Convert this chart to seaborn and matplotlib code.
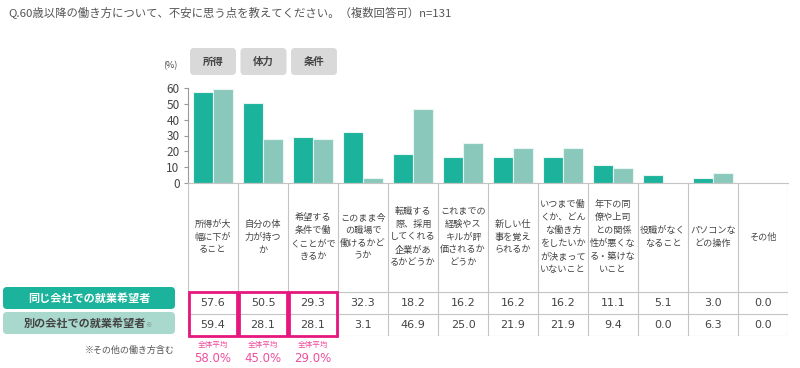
import matplotlib.pyplot as plt
import pandas as pd
import seaborn as sns
from matplotlib.patches import FancyBboxPatch, Rectangle

title = "Q.60歳以降の働き方について、不安に思う点を教えてください。（複数回答可）n=131"

items = [
    "所得が大\n幅に下が\nること",
    "自分の体\n力が持つ\nか",
    "希望する\n条件で働\nくことがで\nきるか",
    "このまま今\nの職場で\n働けるかど\nうか",
    "転職する\n際、採用\nしてくれる\n企業があ\nるかどうか",
    "これまでの\n経験やス\nキルが評\n価されるか\nどうか",
    "新しい仕\n事を覚え\nられるか",
    "いつまで働\nくか、どん\nな働き方\nをしたいか\nが決まって\nいないこと",
    "年下の同\n僚や上司\nとの関係\n性が悪くな\nる・築けな\nいこと",
    "役職がなく\nなること",
    "パソコンな\nどの操作",
    "その他",
]
groups = ["同じ会社での就業希望者", "別の会社での就業希望者"]
same_company = [57.6, 50.5, 29.3, 32.3, 18.2, 16.2, 16.2, 16.2, 11.1, 5.1, 3.0, 0.0]
other_company = [59.4, 28.1, 28.1, 3.1, 46.9, 25.0, 21.9, 21.9, 9.4, 0.0, 6.3, 0.0]
header_tags = ["所得", "体力", "条件"]
overall_avg = [58.0, 45.0, 29.0]

dark = "#1bb39b"
light = "#89c8ba"
pink = "#e6177f"
pink_text = "#ee4f9c"
grid_gray = "#c4c4c4"
text_gray = "#444444"

df = pd.DataFrame({
    "item": items * 2,
    "group": [groups[0]] * len(items) + [groups[1]] * len(items),
    "value": same_company + other_company,
})

sns.set_theme(style="white")
plt.rcParams["font.family"] = ["Noto Sans CJK JP", "DejaVu Sans"]

W, H = 800, 368
fig = plt.figure(figsize=(8, 3.68), dpi=100)

# bar chart
ax = fig.add_axes([188 / W, (H - 183) / H, 600 / W, 95 / H])
sns.barplot(data=df, x="item", y="value", hue="group", order=items,
            palette=[dark, light], saturation=1, width=0.8,
            edgecolor="#e8f5f1", linewidth=0.8, legend=False, ax=ax)
ax.set_xlim(-0.5, len(items) - 0.5)
ax.set_ylim(0, 60)
ax.set_yticks(range(0, 61, 10))
ax.tick_params(axis="y", labelsize=8.5, colors=text_gray, length=3,
               width=0.8, pad=3, left=True, color="#999999")
ax.set_xticks([])
ax.set_xlabel("")
ax.set_ylabel("")
for side in ["top", "right"]:
    ax.spines[side].set_visible(False)
ax.spines["left"].set_color("#999999")
ax.spines["left"].set_linewidth(0.8)
ax.spines["bottom"].set_color(grid_gray)
ax.spines["bottom"].set_linewidth(0.8)

# table below, sharing the category axis
tab = fig.add_axes([188 / W, (H - 336) / H, 600 / W, 153 / H], sharex=ax)
tab.set_ylim(336, 183)
tab.axis("off")
tab.patch.set_alpha(0)
n = len(items)
for k in range(n + 1):
    tab.plot([k - 0.5, k - 0.5], [183, 336], color=grid_gray, lw=0.8)
for yy in [292, 314, 336]:
    tab.plot([-0.5, n - 0.5], [yy, yy], color=grid_gray, lw=0.8)
for i, label in enumerate(items):
    tab.text(i, 237, label, ha="center", va="center", fontsize=6.6,
             color=text_gray, linespacing=1.55)
    tab.text(i, 303, f"{same_company[i]:.1f}", ha="center", va="center",
             fontsize=8, color=text_gray, family="DejaVu Sans")
    tab.text(i, 325, f"{other_company[i]:.1f}", ha="center", va="center",
             fontsize=8, color=text_gray, family="DejaVu Sans")
for i, avg in enumerate(overall_avg):
    tab.add_patch(Rectangle((i - 0.48, 292), 0.96, 44, fill=False,
                            edgecolor=pink, lw=2, clip_on=False, zorder=5))
    tab.text(i, 345, "全体平均", ha="center", va="center", fontsize=5.5,
             color=pink_text, clip_on=False)
    tab.text(i, 359, f"{avg:.1f}%", ha="center", va="center", fontsize=8.5,
             color=pink_text, clip_on=False, family="DejaVu Sans")

# overlay for titles, tags and row labels (pixel coordinates)
ov = fig.add_axes([0, 0, 1, 1], zorder=-1)
ov.set_xlim(0, W)
ov.set_ylim(H, 0)
ov.axis("off")
ov.text(8, 12, title, ha="left", va="center", fontsize=8.2, color="#555555")
ov.text(170, 66, "(%)", ha="center", va="center", fontsize=6.5,
        color=text_gray)
for i, tag in enumerate(header_tags):
    x0 = 190 + 50.5 * i
    ov.add_patch(FancyBboxPatch((x0, 48), 46, 27,
                                boxstyle="round,pad=0,rounding_size=4",
                                facecolor="#d9d9d9", edgecolor="none"))
    ov.text(x0 + 23, 61.5, tag, ha="center", va="center", fontsize=7.5,
            fontweight="bold", color=text_gray)

ov.add_patch(FancyBboxPatch((3, 287), 172, 22,
                            boxstyle="round,pad=0,rounding_size=4",
                            facecolor=dark, edgecolor="none"))
ov.text(89, 298, groups[0], ha="center", va="center", fontsize=8,
        fontweight="bold", color="white")
ov.add_patch(FancyBboxPatch((3, 312), 172, 22,
                            boxstyle="round,pad=0,rounding_size=4",
                            facecolor="#a9d8cc", edgecolor="none"))
ov.text(85, 323, groups[1], ha="center", va="center", fontsize=8,
        fontweight="bold", color=text_gray)
ov.text(145, 325, "※", ha="left", va="center", fontsize=4.5, color="#777777")
ov.text(175, 350, "※その他の働き方含む", ha="right", va="center",
        fontsize=6.5, color="#555555")

fig.savefig("out.png", dpi=100)
